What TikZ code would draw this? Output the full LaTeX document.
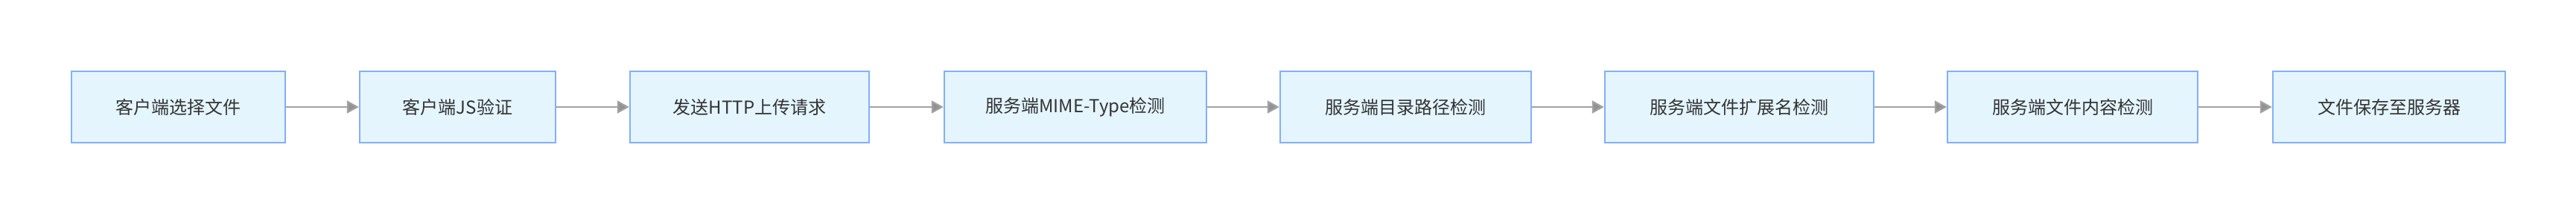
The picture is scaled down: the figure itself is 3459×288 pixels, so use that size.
\documentclass[tikz,border=0pt]{standalone}
\usepackage{fontspec}
\setmainfont{Noto Sans CJK SC}
\usetikzlibrary{arrows.meta}
\definecolor{boxfill}{HTML}{E4F5FE}
\definecolor{boxline}{HTML}{82AFFA}
\definecolor{arrowc}{HTML}{A2A2A2}
\definecolor{txt}{HTML}{333333}
\tikzset{
  stepbox/.style={draw=boxline, fill=boxfill, line width=2.2pt, rectangle,
    minimum height=96pt, inner sep=0pt, text=txt, font=\fontsize{24pt}{28pt}\selectfont},
  flow/.style={draw=arrowc, line width=2.2pt, -{Triangle[length=16pt,width=17pt,fill=arrowc!90!black]}}
}
\begin{document}
\begin{tikzpicture}[x=1pt,y=-1pt]
\useasboundingbox (0,0) rectangle (3459,288);
\node[stepbox, minimum width=287pt] (n1) at (239.5,144) {客户端选择文件};
\node[stepbox, minimum width=263pt] (n2) at (614.5,144) {客户端JS验证};
\node[stepbox, minimum width=321pt] (n3) at (1006.5,144) {发送HTTP上传请求};
\node[stepbox, minimum width=352pt] (n4) at (1444,144) {服务端MIME-Type检测};
\node[stepbox, minimum width=337pt] (n5) at (1887.5,144) {服务端目录路径检测};
\node[stepbox, minimum width=361pt] (n6) at (2335.5,144) {服务端文件扩展名检测};
\node[stepbox, minimum width=336pt] (n7) at (2783,144) {服务端文件内容检测};
\node[stepbox, minimum width=312pt] (n8) at (3208,144) {文件保存至服务器};
\draw[flow] (n1) -- (n2);
\draw[flow] (n2) -- (n3);
\draw[flow] (n3) -- (n4);
\draw[flow] (n4) -- (n5);
\draw[flow] (n5) -- (n6);
\draw[flow] (n6) -- (n7);
\draw[flow] (n7) -- (n8);
\end{tikzpicture}
\end{document}
